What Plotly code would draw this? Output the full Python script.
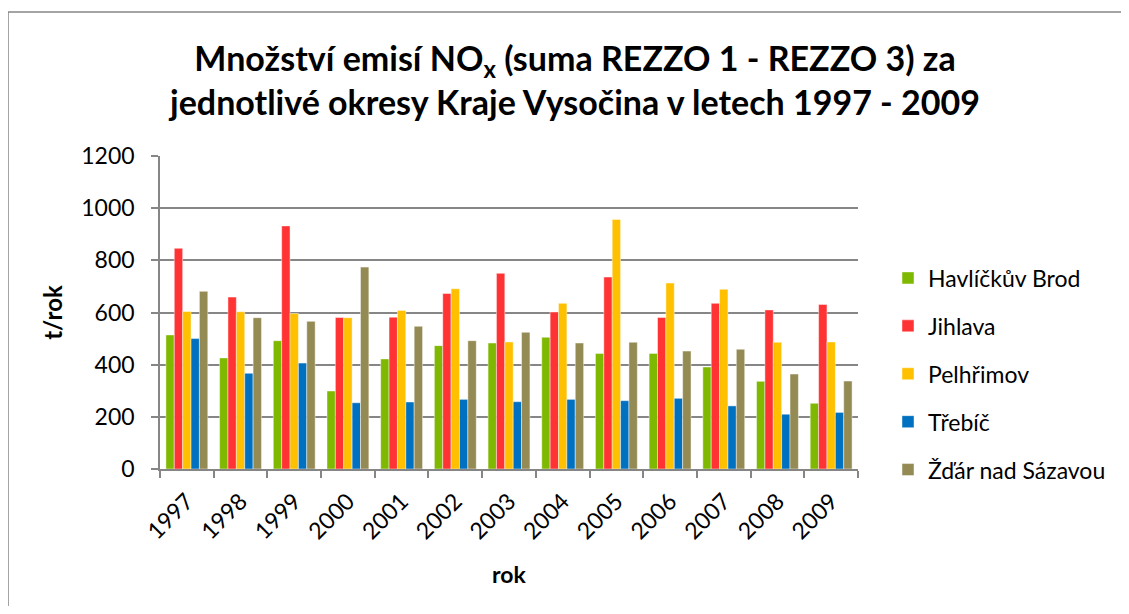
import plotly.graph_objects as go

years = ["1997", "1998", "1999", "2000", "2001", "2002", "2003", "2004", "2005", "2006", "2007", "2008", "2009"]
havlickuv_brod = [514, 426, 492, 299, 422, 473, 483, 505, 443, 443, 391, 336, 252]
jihlava = [846, 659, 932, 581, 582, 673, 750, 602, 736, 581, 635, 610, 631]
pelhrimov = [604, 603, 596, 580, 608, 691, 487, 635, 957, 713, 689, 486, 487]
trebic = [500, 367, 406, 254, 257, 267, 258, 267, 262, 271, 242, 210, 217]
zdar = [681, 580, 566, 774, 547, 492, 524, 483, 486, 452, 459, 364, 337]

series_names = ["Havlíčkův Brod", "Jihlava", "Pelhřimov", "Třebíč", "Žďár nad Sázavou"]
series_values = [havlickuv_brod, jihlava, pelhrimov, trebic, zdar]
colors = ["#7FB800", "#FF3333", "#FFC000", "#0070C0", "#948A54"]

FONT = "Lato, Calibri, 'Open Sans', sans-serif"

fig = go.Figure()
for i, (name, vals, col) in enumerate(zip(series_names, series_values, colors)):
    fig.add_trace(go.Bar(
        x=years, y=vals, name=name, legendgroup=f"g{i}",
        marker=dict(color=col, line=dict(color="rgba(255,255,255,0.45)", width=1)),
    ))

# page body has an 8px margin, so the figure is sized to fit inside the window
OFF = 8
W, H = 1129 - 2 * OFF, 614 - 2 * OFF
L, T = 160 - OFF, 156 - OFF
pw, ph = 698, 313
R, B = W - L - pw, H - T - ph

def px(xref_px):
    return (xref_px - OFF - L) / pw

def py(yref_px):
    return (T + ph - (yref_px - OFF)) / ph

fig.update_layout(
    width=W, height=H,
    margin=dict(l=L, r=R, t=T, b=B, autoexpand=False),
    paper_bgcolor="white", plot_bgcolor="white",
    font=dict(family=FONT, size=22, color="black"),
    barmode="group", bargap=0.22, bargroupgap=0,
    title=dict(
        text="<b>Množství emisí NO<sub>x</sub> (suma REZZO 1 - REZZO 3) za<br>jednotlivé okresy Kraje Vysočina v letech 1997 - 2009</b>",
        x=(575 - OFF) / W, xanchor="center", y=1 - (71 - OFF) / H, yanchor="middle",
        font=dict(family=FONT, size=34, color="black"),
    ),
    legend=dict(
        x=px(888), xanchor="left", y=py(374), yanchor="middle",
        font=dict(family=FONT, size=23, color="black"),
        tracegroupgap=15, traceorder="grouped", bgcolor="rgba(0,0,0,0)",
    ),
    showlegend=True,
)

fig.update_xaxes(
    type="category", tickangle=-45,
    showline=True, linecolor="#868686", linewidth=1.5,
    ticks="outside", ticklen=7, tickcolor="#868686", tickwidth=1.5,
    tickson="boundaries", showgrid=False,
    tickfont=dict(family=FONT, size=23, color="black"),
    ticklabelstandoff=8,
    title=dict(text="<b>rok</b>", font=dict(family=FONT, size=23, color="black"), standoff=24),
)
fig.update_yaxes(
    range=[0, 1200], dtick=200,
    showline=True, linecolor="#868686", linewidth=1.5,
    ticks="outside", ticklen=7, tickcolor="#868686", tickwidth=1.5,
    showgrid=True, gridcolor="#868686", gridwidth=1.5,
    zeroline=False,
    tickfont=dict(family=FONT, size=23, color="black"),
    ticklabelstandoff=12,
    title=dict(text="<b>t/rok</b>", font=dict(family=FONT, size=24, color="black"), standoff=12),
)

# outer chart border (only top and left edges are visible in the reference)
border = dict(color="#868686", width=1.5)
fig.add_shape(type="line", xref="paper", yref="paper",
              x0=px(8), x1=px(1140), y0=py(12), y1=py(12), line=border, layer="below")
fig.add_shape(type="line", xref="paper", yref="paper",
              x0=px(8), x1=px(8), y0=py(12), y1=py(630), line=border, layer="below")

fig.write_html("out.html")
